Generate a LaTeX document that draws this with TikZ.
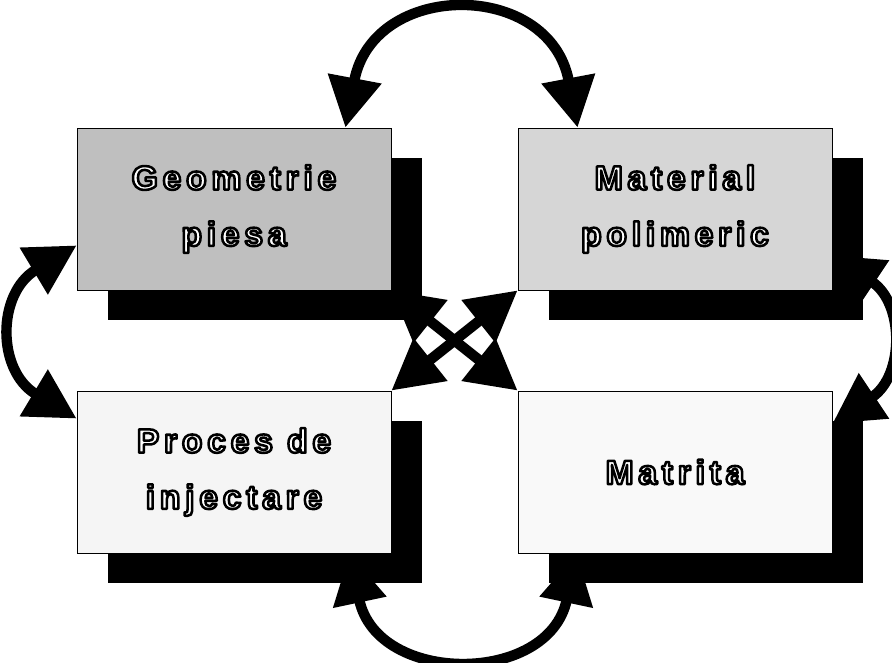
\documentclass[tikz,border=0pt]{standalone}
\usepackage{fontspec}
\setmainfont{Liberation Sans}
\usetikzlibrary{arrows.meta,shadows}
% Texte blanc contouré de noir
\newcommand{\contourne}[1]{\special{pdf:literal direct 2 Tr 1.8 w 1 j 0 G}#1\special{pdf:literal direct 0 Tr 0 j}}

\begin{document}
\begin{tikzpicture}[
    % Boîtes avec ombre noire décalée
    boite/.style={draw=black, line width=0.6pt, minimum width=7.85cm, minimum height=4.05cm,
        text=white, align=center, inner sep=0pt,
        font=\fontsize{24}{40}\selectfont\bfseries\addfontfeature{LetterSpace=14},
        drop shadow={shadow xshift=0.78cm, shadow yshift=-0.76cm, fill=black, opacity=1}},
    % Flèches doubles épaisses
    fleche/.style={line width=0.26cm,
        {Triangle[length=1.25cm,width=1.3cm]}-{Triangle[length=1.25cm,width=1.3cm]}}
]
\useasboundingbox (0,0) rectangle (22.3,16.575);

% Les quatre cadres
\node[boite, fill=gray!50] (geo) at (5.85,11.35)
    {\contourne{Geometrie}\\\contourne{piesa}};
\node[boite, fill=gray!32] (mat) at (16.875,11.35)
    {\contourne{Material}\\\contourne{polimeric}};
\node[boite, fill=gray!8] (proc) at (5.85,4.775)
    {\contourne{Proces de}\\\contourne{injectare}};
\node[boite, fill=gray!5] (matr) at (16.875,4.775)
    {\contourne{Matrita}};

% Flèches courbes
\draw[fleche] ([xshift=-1.15cm]geo.north east)
    .. controls +(0.7,3.7) and +(-0.7,3.7) .. ([xshift=1.5cm]mat.north west);
\draw[fleche] ([yshift=1.125cm]geo.south west)
    .. controls +(-2.0,-1.2) and +(-2.0,1.2) .. ([yshift=-0.7cm]proc.north west);
\draw[fleche] ([yshift=0.875cm]mat.south east)
    .. controls +(1.8,-1.2) and +(1.8,1.2) .. ([yshift=-0.825cm]matr.north east);
\draw[fleche] ([xshift=-1.05cm]proc.south east)
    .. controls +(0.7,-3.3) and +(-0.7,-3.3) .. ([xshift=1.475cm]matr.south west);

% Flèches croisées
\draw[fleche] (geo.south east) -- (matr.north west);
\draw[fleche] (mat.south west) -- (proc.north east);
\end{tikzpicture}
\end{document}
